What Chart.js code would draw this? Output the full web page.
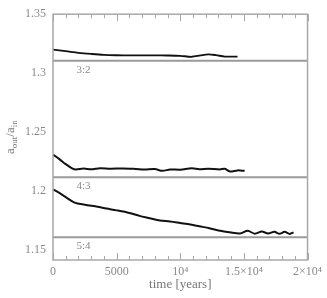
<!DOCTYPE html>
<html>
<head>
<meta charset="utf-8">
<script src="https://cdn.jsdelivr.net/npm/chart.js@4"></script>
<style>
  html, body { margin: 0; padding: 0; background: #fff; }
  canvas { display: block; }
</style>
</head>
<body>
<canvas id="chart" width="327" height="298"></canvas>
<script>
// time in years, ratio a_out/a_in
const time32 = [0, 1000, 2000, 3000, 4000, 5000, 6000, 7000, 8000, 9000, 10000, 10900, 11600, 12200, 12800, 13500, 14500];
const ratio32 = [1.3199, 1.3186, 1.3172, 1.3162, 1.3154, 1.3151, 1.3150, 1.3150, 1.3150, 1.3149, 1.3146, 1.3138, 1.3150, 1.3158, 1.3152, 1.3140, 1.3139];

const time43 = [0, 500, 1000, 1500, 1800, 2400, 3000, 3700, 4500, 5500, 6500, 7200, 8000, 8600, 9200, 10000, 10900, 11500, 12200, 13100, 13500, 13900, 14500, 15060];
const ratio43 = [1.2306, 1.2268, 1.2225, 1.2190, 1.2180, 1.2188, 1.2181, 1.2190, 1.2186, 1.2188, 1.2184, 1.2180, 1.2183, 1.2168, 1.2180, 1.2178, 1.2190, 1.2182, 1.2186, 1.2180, 1.2186, 1.2163, 1.2172, 1.2168];

const time54 = [0, 500, 1000, 1700, 2500, 3500, 4200, 5000, 6000, 6800, 7600, 8400, 9200, 10000, 10800, 11500, 12300, 13000, 13900, 14700, 15300, 15850, 16400, 16900, 17400, 17800, 18200, 18600, 18900];
const ratio54 = [1.2011, 1.1980, 1.1945, 1.1898, 1.1880, 1.1862, 1.1847, 1.1832, 1.1810, 1.1785, 1.1765, 1.1745, 1.1738, 1.1725, 1.1712, 1.1697, 1.1680, 1.1660, 1.1645, 1.1635, 1.1658, 1.1634, 1.1652, 1.1636, 1.1650, 1.1633, 1.1650, 1.1632, 1.1645];

// exact resonance locations (p/q)^(2/3)
const resonanceNames = ['3:2', '4:3', '5:4'];
const resonanceValues = [1.3104, 1.2114, 1.1604];
const timeRange = [0, 20000];

const xTickValues = [0, 5000, 10000, 15000, 20000];
const xTickLabels = ['0', '5000', '10\u2074', '1.5\u00d710\u2074', '2\u00d710\u2074'];
const yTickValues = [1.15, 1.2, 1.25, 1.3, 1.35];
const yTickLabels = ['1.15', '1.2', '1.25', '1.3', '1.35'];

const serif = "'Liberation Serif', 'DejaVu Serif', serif";
const grey = '#8a8a8a';

function toPoints(xs, ys) {
    return xs.map((t, i) => ({ x: t, y: ys[i] }));
}

const datasets = [];
resonanceValues.forEach(v => {
    datasets.push({
        data: toPoints(timeRange, [v, v]),
        borderColor: '#9a9a9a',
        borderWidth: 2,
        pointRadius: 0,
        tension: 0
    });
});
[[time32, ratio32, 1.8], [time43, ratio43, 2], [time54, ratio54, 2]].forEach(([xs, ys, w]) => {
    datasets.push({
        data: toPoints(xs, ys),
        borderColor: '#111',
        borderWidth: w,
        pointRadius: 0,
        tension: 0.3
    });
});

// frame with inward ticks, resonance names and the y title
const framePlugin = {
    id: 'framePlugin',
    afterDraw(chart) {
        const { ctx, chartArea: a, scales: { x, y } } = chart;
        ctx.save();
        ctx.strokeStyle = '#a8a8a8';
        ctx.lineWidth = 1.5;
        ctx.strokeRect(a.left, a.top, a.right - a.left, a.bottom - a.top);

        ctx.lineWidth = 1;
        ctx.beginPath();
        for (let t = 0; t <= 20000; t += 1000) {
            const px = Math.round(x.getPixelForValue(t)) + 0.5;
            const len = t % 5000 === 0 ? 7 : 4;
            ctx.moveTo(px, a.bottom); ctx.lineTo(px, a.bottom - len);
            ctx.moveTo(px, a.top); ctx.lineTo(px, a.top + len);
        }
        for (let i = 15; i <= 35; i++) {
            const py = Math.round(y.getPixelForValue(i / 100)) + 0.5;
            const len = i % 5 === 0 ? 7 : 4;
            ctx.moveTo(a.left, py); ctx.lineTo(a.left + len, py);
            ctx.moveTo(a.right, py); ctx.lineTo(a.right - len, py);
        }
        ctx.stroke();

        ctx.fillStyle = grey;
        ctx.font = '11px ' + serif;
        ctx.textAlign = 'center';
        ctx.textBaseline = 'middle';
        resonanceNames.forEach((name, i) => {
            const px = x.getPixelForValue(2400);
            const py = y.getPixelForValue(resonanceValues[i]) + 9;
            ctx.fillText(name, px, py);
        });

        // y title: a_out / a_in, turned to read upwards
        const cy = (a.top + a.bottom) / 2;
        ctx.setTransform(0, -1, 1, 0, 10, cy);
        const big = '13px ' + serif, small = '9px ' + serif;
        const parts = [['a', big, 0], ['out', small, 3], ['/', big, 0], ['a', big, 0], ['in', small, 3]];
        let total = 0;
        parts.forEach(p => { ctx.font = p[1]; total += ctx.measureText(p[0]).width; });
        let cx = -total / 2;
        ctx.textAlign = 'left';
        ctx.textBaseline = 'alphabetic';
        ctx.fillStyle = '#777';
        parts.forEach(p => {
            ctx.font = p[1];
            ctx.fillText(p[0], cx, 4 + p[2]);
            cx += ctx.measureText(p[0]).width;
        });
        ctx.restore();
    }
};

new Chart(document.getElementById('chart'), {
    type: 'line',
    data: { datasets: datasets },
    plugins: [framePlugin],
    options: {
        responsive: false,
        animation: false,
        devicePixelRatio: 1,
        layout: { padding: { top: 5, right: 19, left: 0, bottom: 0 } },
        plugins: { legend: { display: false }, tooltip: { enabled: false } },
        scales: {
            x: {
                type: 'linear',
                min: 0,
                max: 20000,
                grid: { display: false, drawTicks: false },
                border: { display: false },
                afterBuildTicks: scale => { scale.ticks = xTickValues.map(v => ({ value: v })); },
                afterFit: scale => { scale.height = 38; },
                ticks: {
                    color: grey,
                    font: { family: serif, size: 12 },
                    padding: 5,
                    maxRotation: 0,
                    autoSkip: false,
                    callback: (v, i) => xTickLabels[i]
                },
                title: {
                    display: true,
                    text: 'time [years]',
                    color: '#777',
                    font: { family: serif, size: 13 },
                    padding: { top: 0, bottom: 6 }
                }
            },
            y: {
                type: 'linear',
                min: 1.141,
                max: 1.35,
                grid: { display: false, drawTicks: false },
                border: { display: false },
                afterBuildTicks: scale => { scale.ticks = yTickValues.map(v => ({ value: v })); },
                afterFit: scale => { scale.width = 53; },
                ticks: {
                    color: grey,
                    font: { family: serif, size: 12 },
                    padding: 7,
                    autoSkip: false,
                    callback: (v, i) => yTickLabels[i]
                }
            }
        }
    }
});
</script>
</body>
</html>
